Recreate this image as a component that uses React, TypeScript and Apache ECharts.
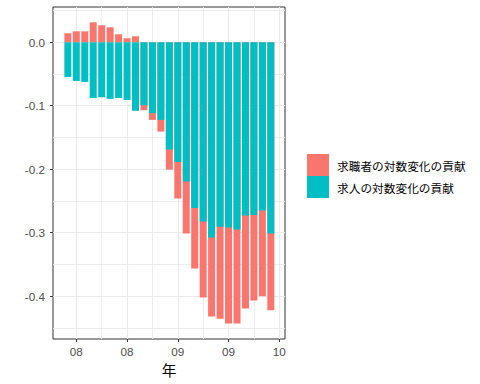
import React, { useEffect, useRef } from 'react';
import * as echarts from 'echarts';

// Months (first of month) of each bar
const months = [
  '2007-12', '2008-01', '2008-02', '2008-03', '2008-04', '2008-05', '2008-06',
  '2008-07', '2008-08', '2008-09', '2008-10', '2008-11', '2008-12', '2009-01',
  '2009-02', '2009-03', '2009-04', '2009-05', '2009-06', '2009-07', '2009-08',
  '2009-09', '2009-10', '2009-11', '2009-12',
];

// 求職者の対数変化の貢献
const seekerContribution = [
  0.0142, 0.0173, 0.0173, 0.0315, 0.0268, 0.0236, 0.0126, 0.0063, 0.0094,
  -0.0079, -0.0105, -0.0185, -0.0316, -0.0578, -0.0819, -0.0955, -0.1197,
  -0.1244, -0.1448, -0.151, -0.148, -0.1465, -0.135, -0.135, -0.121,
];

// 求人の対数変化の貢献
const offerContribution = [
  -0.0546, -0.0609, -0.0625, -0.0877, -0.0866, -0.0892, -0.0877, -0.0908,
  -0.108, -0.0992, -0.1118, -0.1223, -0.169, -0.1885, -0.2195, -0.261,
  -0.2825, -0.3077, -0.2909, -0.292, -0.2951, -0.273, -0.272, -0.2652, -0.3014,
];

const xTickMonths = ['2008-01', '2008-07', '2009-01', '2009-07', '2010-01'];
const xTickLabels = ['08', '08', '09', '09', '10'];
const xMinorMonths = ['2008-04', '2008-10', '2009-04', '2009-10'];
const yTicks = [0, -0.1, -0.2, -0.3, -0.4];
const yMinorTicks = [0.05, -0.05, -0.15, -0.25, -0.35, -0.45];

const seekerName = '求職者の対数変化の貢献';
const offerName = '求人の対数変化の貢献';

function monthIndex(m: string): number {
  const [y, mo] = m.split('-').map(Number);
  return (y - 2008) * 12 + (mo - 1);
}

export default function App() {
  const ref = useRef<HTMLDivElement>(null);

  useEffect(() => {
    if (!ref.current) return;
    const chart = echarts.init(ref.current, undefined, { renderer: 'svg' });
    const xTickValues = xTickMonths.map(monthIndex);
    const xMinorValues = xMinorMonths.map(monthIndex);
    const labelFont = 'Liberation Sans, Arial, sans-serif';
    const cjkFont = 'Noto Sans CJK JP, sans-serif';
    const xMin = -2.755;
    const xMax = 24.675;
    const yMin = -0.4676;
    const yMax = 0.0556;
    const gridColor = '#EBEBEB';

    // ggplot-like stacking: the job-offer part sits next to zero, the
    // job-seeker part is stacked beyond it on the same side.
    const seekerStackEnd = seekerContribution.map((s, i) =>
      s >= 0 ? s : s + offerContribution[i]
    );

    const hiddenAxis = {
      axisLine: { show: false, onZero: false },
      axisLabel: { show: false },
    };

    chart.setOption({
      animation: false,
      backgroundColor: '#ffffff',
      grid: {
        show: true,
        left: 53,
        top: 7,
        width: 232,
        height: 332,
        borderColor: '#333333',
        borderWidth: 1,
        backgroundColor: '#ffffff',
        containLabel: false,
      },
      legend: {
        show: true,
        orient: 'vertical',
        left: 307,
        top: 154,
        padding: 0,
        itemWidth: 22,
        itemHeight: 22,
        itemGap: 0,
        icon: 'rect',
        data: [seekerName, offerName],
        textStyle: {
          color: '#000000',
          fontSize: 11.7,
          fontFamily: cjkFont,
          padding: [0, 0, 0, 3],
        },
      },
      xAxis: [
        {
          type: 'value',
          position: 'bottom',
          min: xMin,
          max: xMax,
          name: '年',
          nameLocation: 'middle',
          nameGap: 20,
          nameTextStyle: { color: '#000000', fontSize: 14.7, fontFamily: cjkFont },
          axisLine: { show: false, onZero: false },
          axisTick: {
            show: true,
            length: 3,
            customValues: xTickValues,
            lineStyle: { color: '#333333', width: 1 },
          },
          axisLabel: {
            show: true,
            customValues: xTickValues,
            margin: 6,
            color: '#4D4D4D',
            fontSize: 11.7,
            fontFamily: labelFont,
            formatter: (v: number) => {
              const i = xTickValues.indexOf(Math.round(v));
              return i >= 0 ? xTickLabels[i] : '';
            },
          },
          splitLine: { show: true, lineStyle: { color: gridColor, width: 1.1 } },
        },
        {
          type: 'value',
          position: 'top',
          min: xMin,
          max: xMax,
          ...hiddenAxis,
          axisTick: { show: false, customValues: xMinorValues },
          splitLine: { show: true, lineStyle: { color: gridColor, width: 0.9 } },
        },
      ],
      yAxis: [
        {
          type: 'value',
          position: 'left',
          min: yMin,
          max: yMax,
          axisLine: { show: false, onZero: false },
          axisTick: {
            show: true,
            length: 3,
            customValues: yTicks,
            lineStyle: { color: '#333333', width: 1 },
          },
          axisLabel: {
            show: true,
            customValues: yTicks,
            margin: 8,
            color: '#4D4D4D',
            fontSize: 11.7,
            fontFamily: labelFont,
            formatter: (v: number) => (Math.abs(v) < 1e-9 ? '0.0' : v.toFixed(1)),
          },
          splitLine: { show: true, lineStyle: { color: gridColor, width: 1.1 } },
        },
        {
          type: 'value',
          position: 'right',
          min: yMin,
          max: yMax,
          ...hiddenAxis,
          axisTick: { show: false, customValues: yMinorTicks },
          splitLine: { show: true, lineStyle: { color: gridColor, width: 0.9 } },
        },
      ],
      series: [
        {
          name: seekerName,
          type: 'bar',
          barWidth: 7,
          barGap: '-100%',
          itemStyle: { color: '#F8766D' },
          data: months.map((m, i) => [monthIndex(m), seekerStackEnd[i]]),
        },
        {
          name: offerName,
          type: 'bar',
          barWidth: 7,
          barGap: '-100%',
          itemStyle: { color: '#00BFC4' },
          data: months.map((m, i) => [monthIndex(m), offerContribution[i]]),
        },
      ],
    });

    return () => chart.dispose();
  }, []);

  return (
    <div
      ref={ref}
      style={{ position: 'fixed', left: 0, top: 0, width: 480, height: 384 }}
    />
  );
}
